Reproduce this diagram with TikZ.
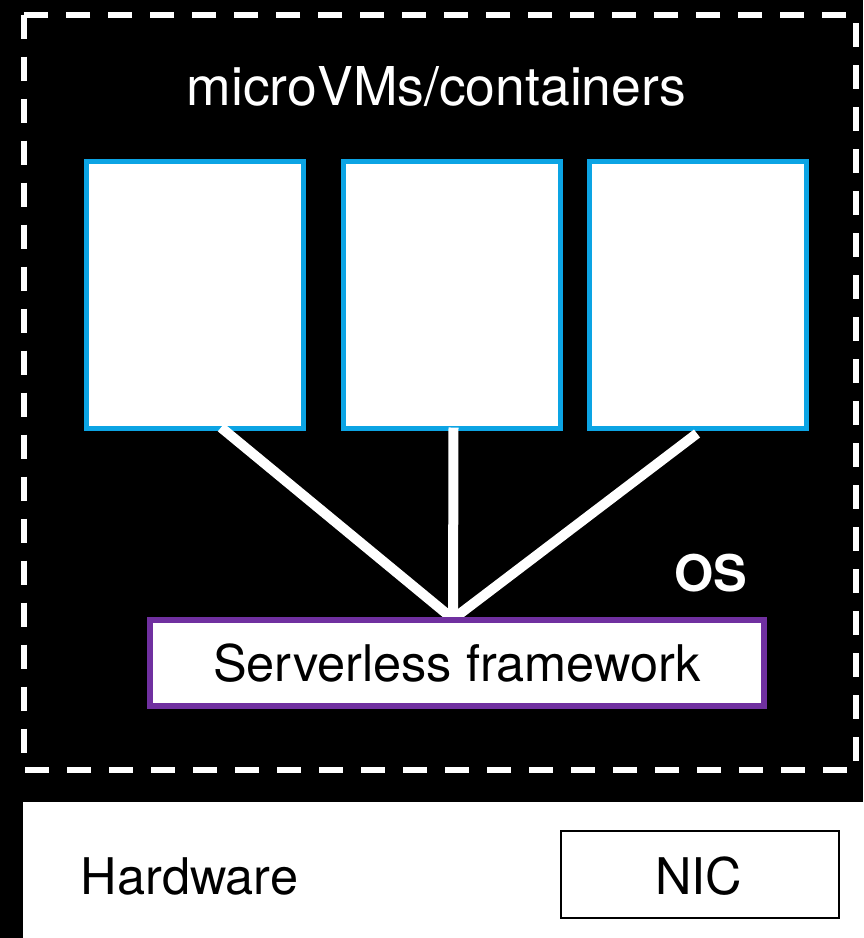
\documentclass[tikz,border=0pt]{standalone}
\usepackage{fontspec}
\setmainfont{TeX Gyre Heros}
\definecolor{vmblue}{RGB}{12,164,228}
\definecolor{fwpurple}{RGB}{112,48,160}
\tikzset{
  vmbox/.style={draw=vmblue, line width=5pt, fill=white, minimum width=217pt, minimum height=267pt, inner sep=0pt, outer sep=0pt},
  wire/.style={draw=white, line width=10pt},
  lbl/.style={inner sep=0pt, outer sep=0pt, anchor=base},
}
\begin{document}
\begin{tikzpicture}[x=1pt,y=-1pt]
\useasboundingbox (0,0) rectangle (863,938);
\fill[black] (0,0) rectangle (863,938);
% OS dashed frame
\draw[white, line width=6pt, dash pattern=on 24pt off 18pt] (24,14.5) rectangle (856,769.5);
\node[lbl, text=white, font=\fontsize{53.5}{62}\selectfont] (title) at (436.5,105) {microVMs/containers};
% microVM boxes
\node[vmbox] (b1) at (194.5,295) {};
\node[vmbox] (b2) at (452,295) {};
\node[vmbox] (b3) at (698,295) {};
% wires
\coordinate (j) at (453,619);
\path (b1.south) ++(26.5,-1) coordinate (s1);
\path (b2.south) ++(1.5,-1) coordinate (s2);
\path (b3.south) ++(-1,5) coordinate (s3);
\draw[wire] (s1) -- (j);
\draw[wire] (s2) -- (j);
\draw[wire] (s3) -- (j);
% framework
\node[draw=fwpurple, line width=6pt, fill=white, minimum width=614pt, minimum height=86pt, inner sep=0pt, outer sep=0pt] (fw) at (457,663) {};
\node[lbl, font=\fontsize{50.5}{60}\selectfont] (fwt) at (457,681) {Serverless framework};
\node[lbl, text=white, font=\bfseries\fontsize{50.5}{60}\selectfont] (os) at (711,591) {OS};
% hardware
\fill[white] (23,802) rectangle (863,938);
\node[lbl, font=\fontsize{50.5}{60}\selectfont] (hw) at (189.5,894) {Hardware};
\node[draw=black, line width=2pt, minimum width=278pt, minimum height=87pt, inner sep=0pt] (nic) at (699.5,874.5) {};
\node[lbl, font=\fontsize{50.5}{60}\selectfont] (nict) at (698.5,894) {NIC};
\end{tikzpicture}
\end{document}
